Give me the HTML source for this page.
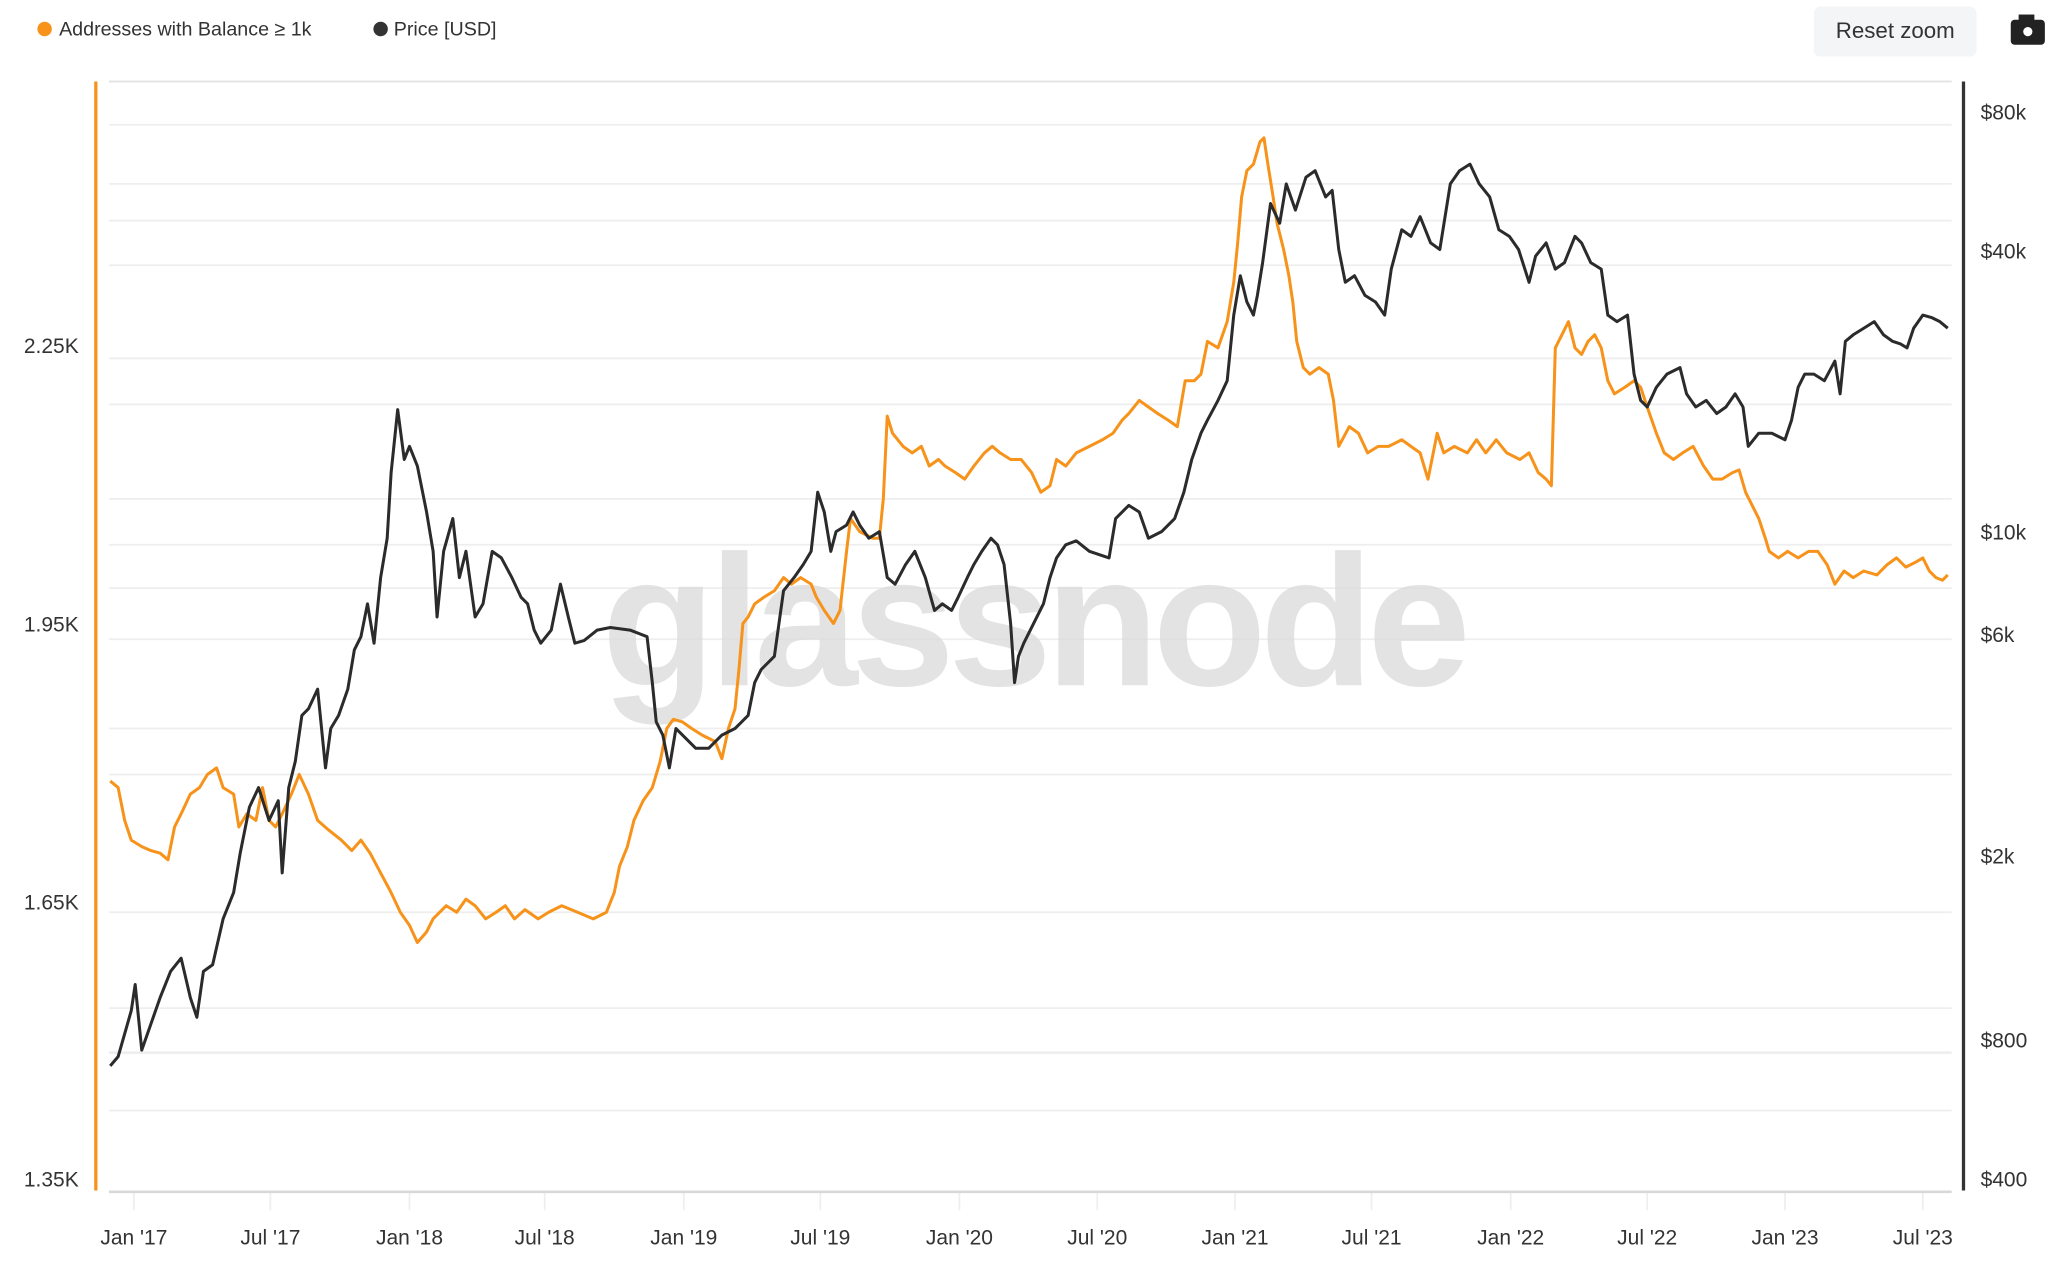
<!DOCTYPE html><html><head><style>body{margin:0;background:#fff}svg{display:block}</style></head><body>
<svg width="2058" height="1272" viewBox="0 0 1568 969" font-family="Liberation Sans, sans-serif">
<rect width="1568" height="969" fill="#fff"/>
<circle cx="34" cy="22" r="5.5" fill="#f7931a"/><text x="45" y="27" font-size="15" fill="#333">Addresses with Balance ≥ 1k</text>
<circle cx="290" cy="22" r="5.5" fill="#333"/><text x="300" y="27" font-size="15" fill="#333">Price [USD]</text>
<rect x="1382" y="5" width="124" height="38" rx="5" fill="#f3f5f7"/><text x="1444" y="29" font-size="17" fill="#333" text-anchor="middle">Reset zoom</text>
<rect x="1532" y="15" width="26" height="19" rx="3" fill="#222"/><rect x="1538" y="11" width="12" height="5" fill="#222"/><circle cx="1545" cy="24" r="3.5" fill="#fff"/>
<g stroke="#eee" stroke-width="1.3">
<line x1="83" x2="1487" y1="62" y2="62" stroke="#e4e4e4" stroke-width="1.5"/>
<line x1="83" x2="1487" y1="95" y2="95"/><line x1="83" x2="1487" y1="140" y2="140"/><line x1="83" x2="1487" y1="168" y2="168"/><line x1="83" x2="1487" y1="202" y2="202"/><line x1="83" x2="1487" y1="273" y2="273"/><line x1="83" x2="1487" y1="308" y2="308"/><line x1="83" x2="1487" y1="380" y2="380"/><line x1="83" x2="1487" y1="415" y2="415"/><line x1="83" x2="1487" y1="448" y2="448"/><line x1="83" x2="1487" y1="487" y2="487"/><line x1="83" x2="1487" y1="555" y2="555"/><line x1="83" x2="1487" y1="590" y2="590"/><line x1="83" x2="1487" y1="695" y2="695"/><line x1="83" x2="1487" y1="768" y2="768"/><line x1="83" x2="1487" y1="802" y2="802" stroke-width="2"/><line x1="83" x2="1487" y1="846" y2="846"/>
<line x1="102" x2="102" y1="908" y2="922"/><line x1="206" x2="206" y1="908" y2="922"/><line x1="312" x2="312" y1="908" y2="922"/><line x1="415" x2="415" y1="908" y2="922"/><line x1="521" x2="521" y1="908" y2="922"/><line x1="625" x2="625" y1="908" y2="922"/><line x1="731" x2="731" y1="908" y2="922"/><line x1="836" x2="836" y1="908" y2="922"/><line x1="941" x2="941" y1="908" y2="922"/><line x1="1045" x2="1045" y1="908" y2="922"/><line x1="1151" x2="1151" y1="908" y2="922"/><line x1="1255" x2="1255" y1="908" y2="922"/><line x1="1360" x2="1360" y1="908" y2="922"/><line x1="1465" x2="1465" y1="908" y2="922"/>
</g>
<line x1="83" x2="1487" y1="908" y2="908" stroke="#d8d8d8" stroke-width="2"/>
<line x1="73" x2="73" y1="62" y2="907" stroke="#f7931a" stroke-width="2.5"/>
<line x1="1496" x2="1496" y1="62" y2="907" stroke="#333" stroke-width="2.5"/>
<g font-size="16" fill="#333">
<text x="60" y="269" text-anchor="end">2.25K</text><text x="60" y="481" text-anchor="end">1.95K</text><text x="60" y="693" text-anchor="end">1.65K</text><text x="60" y="904" text-anchor="end">1.35K</text>
<text x="1509" y="91">$80k</text><text x="1509" y="197">$40k</text><text x="1509" y="411">$10k</text><text x="1509" y="489">$6k</text><text x="1509" y="658">$2k</text><text x="1509" y="798">$800</text><text x="1509" y="904">$400</text>
</g>
<g font-size="16" fill="#333" text-anchor="middle">
<text x="102" y="948">Jan '17</text><text x="206" y="948">Jul '17</text><text x="312" y="948">Jan '18</text><text x="415" y="948">Jul '18</text><text x="521" y="948">Jan '19</text><text x="625" y="948">Jul '19</text><text x="731" y="948">Jan '20</text><text x="836" y="948">Jul '20</text><text x="941" y="948">Jan '21</text><text x="1045" y="948">Jul '21</text><text x="1151" y="948">Jan '22</text><text x="1255" y="948">Jul '22</text><text x="1360" y="948">Jan '23</text><text x="1465" y="948">Jul '23</text>
</g>
<text x="787" y="522" font-size="142" fill="#dadada" text-anchor="middle" font-weight="bold" opacity="0.75" letter-spacing="-5">glassnode</text>
<polyline fill="none" stroke="#f7931a" stroke-width="2.3" stroke-linejoin="round" points="84,595 90,600 95,625 100,640 108,645 115,648 122,650 128,655 133,630 138,620 145,605 152,600 158,590 165,585 170,600 178,605 182,630 188,620 195,625 200,600 205,625 210,630 215,620 222,605 228,590 235,605 242,625 250,632 260,640 268,648 275,640 282,650 290,665 298,680 305,695 312,705 318,718 325,710 330,700 340,690 348,695 355,685 362,690 370,700 378,695 385,690 392,700 400,693 410,700 418,695 428,690 440,695 452,700 462,695 468,680 472,660 478,645 483,625 490,610 497,600 503,580 508,555 513,548 520,550 527,555 535,560 545,565 550,578 555,555 560,540 563,510 566,475 570,470 575,460 582,455 590,450 597,440 603,445 610,440 618,445 622,455 628,465 635,475 640,465 645,420 648,395 655,405 665,410 670,410 673,380 676,317 680,330 688,340 695,345 702,340 708,355 715,350 720,355 728,360 735,365 742,355 750,345 756,340 762,345 770,350 778,350 786,360 793,375 800,370 805,350 812,355 820,345 830,340 840,335 848,330 855,320 860,315 868,305 875,310 882,315 890,320 897,325 903,290 910,290 915,285 920,260 928,265 935,245 940,215 943,185 946,150 950,130 955,125 960,108 963,105 966,125 970,150 973,170 978,190 982,210 985,230 988,260 993,280 998,285 1005,280 1012,285 1016,305 1020,340 1028,325 1035,330 1042,345 1050,340 1058,340 1068,335 1075,340 1082,345 1088,365 1095,330 1100,345 1108,340 1118,345 1125,335 1132,345 1140,335 1148,345 1158,350 1165,345 1172,360 1178,365 1182,370 1185,265 1190,255 1195,245 1200,265 1205,270 1210,260 1215,255 1220,265 1225,290 1230,300 1238,295 1245,290 1250,295 1255,310 1262,330 1268,345 1275,350 1282,345 1290,340 1298,355 1305,365 1312,365 1320,360 1325,358 1330,375 1335,385 1340,395 1345,410 1348,420 1355,425 1362,420 1370,425 1378,420 1385,420 1392,430 1398,445 1405,435 1412,440 1420,435 1430,438 1438,430 1445,425 1452,432 1460,428 1465,425 1470,435 1475,440 1480,442 1484,438"/>
<polyline fill="none" stroke="#2b2b2b" stroke-width="2.3" stroke-linejoin="round" points="84,812 90,805 100,770 103,750 108,800 115,780 122,760 130,740 138,730 145,760 150,775 155,740 162,735 170,700 178,680 183,650 190,615 197,600 205,625 212,610 215,665 220,600 225,580 230,545 235,540 242,525 248,585 252,555 258,545 265,525 270,495 275,485 280,460 285,490 290,440 295,410 298,360 303,312 308,350 312,340 318,355 325,390 330,420 333,470 338,420 345,395 350,440 355,420 362,470 368,460 375,420 382,425 390,440 397,455 402,460 407,480 412,490 420,480 427,445 433,470 438,490 445,488 455,480 465,478 480,480 493,485 497,520 500,550 505,560 510,585 515,555 520,560 530,570 540,570 550,560 560,555 570,545 575,520 580,510 590,500 597,450 605,440 612,430 618,420 623,375 628,390 633,420 637,405 645,400 650,390 655,400 662,410 670,405 676,440 682,445 690,430 697,420 705,440 712,465 718,460 725,465 730,455 737,440 742,430 748,420 755,410 760,415 765,430 770,475 773,520 776,500 780,490 785,480 790,470 795,460 800,440 805,425 812,415 820,412 830,420 845,425 850,395 860,385 868,390 875,410 885,405 895,395 902,375 908,350 915,330 920,320 928,305 935,290 940,240 945,210 950,230 955,240 958,225 962,200 968,155 975,170 980,140 987,160 995,135 1002,130 1010,150 1015,145 1020,190 1025,215 1032,210 1040,225 1048,230 1055,240 1060,205 1068,175 1075,180 1082,165 1090,185 1097,190 1105,140 1112,130 1120,125 1127,140 1135,150 1142,175 1150,180 1157,190 1165,215 1170,195 1178,185 1185,205 1192,200 1200,180 1205,185 1212,200 1220,205 1225,240 1232,245 1240,240 1245,285 1250,305 1255,310 1262,295 1270,285 1280,280 1285,300 1292,310 1300,305 1308,315 1315,310 1322,300 1328,310 1332,340 1340,330 1350,330 1360,335 1365,320 1370,295 1375,285 1382,285 1390,290 1398,275 1402,300 1406,260 1412,255 1420,250 1428,245 1435,255 1442,260 1448,262 1453,265 1458,250 1465,240 1472,242 1478,245 1484,250"/>
</svg>
</body></html>
